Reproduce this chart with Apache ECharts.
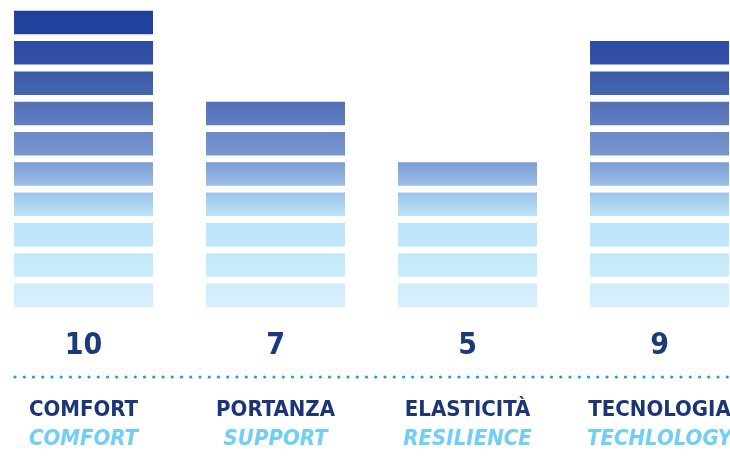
<!DOCTYPE html>
<html>
<head>
<meta charset="utf-8">
<script src="https://cdn.jsdelivr.net/npm/echarts@6/dist/echarts.min.js"></script>
<style>
  html, body { margin: 0; padding: 0; background: #ffffff; }
  #chart { width: 730px; height: 456px; }
</style>
</head>
<body>
<div id="chart"></div>
<script>
// Scores per feature (out of 10), drawn as stacks of unit blocks
const categories = ['COMFORT', 'PORTANZA', 'ELASTICITÀ', 'TECNOLOGIA'];
const subtitles = ['COMFORT', 'SUPPORT', 'RESILIENCE', 'TECHLOLOGY'];
const scores = [10, 7, 5, 9];

// Block colours from level 1 (bottom) to level 10 (top): [top, bottom] of each block
const levelColors = [
  ['#d0edfa', '#d6effb'],
  ['#c5e8f9', '#cbebfa'],
  ['#bce5f9', '#c1e7f9'],
  ['#9cc4e8', '#bae5f9'],
  ['#7b9dd2', '#9cbfe6'],
  ['#6a89c6', '#7a98cd'],
  ['#5470b8', '#617ebf'],
  ['#3a59a8', '#4766b0'],
  ['#2a4ba2', '#3551a6'],
  ['#213f99', '#2444a0']
];

const BLOCK = 0.776;     // filled share of each unit step
const BAR_SHARE = 0.724; // bar width as share of one category step

const chart = echarts.init(document.getElementById('chart'), null, { renderer: 'canvas' });

const FONT = "'Liberation Sans Narrow', 'DejaVu Sans Condensed', 'Liberation Sans', sans-serif";

chart.setOption({
  animation: false,
  grid: { left: 0, right: 0, top: 4, height: 303, containLabel: false, outerBoundsMode: 'none' },
  xAxis: {
    type: 'value',
    min: -0.435,
    max: 3.367,
    splitLine: { show: false },
    axisLine: { show: false },
    axisTick: { show: false },
    axisLabel: {
      margin: 89,
      customValues: categories.map((c, i) => i),
      formatter: (val) => {
        const i = Math.round(val);
        return '{a|' + categories[i] + '}\n{b|' + subtitles[i] + '}';
      },
      rich: {
        a: { fontFamily: FONT, fontSize: 22, fontWeight: 'bold', color: '#1c3576', lineHeight: 29 },
        b: { fontFamily: FONT, fontSize: 22, fontWeight: 'bold', fontStyle: 'italic', color: '#6fcff6', lineHeight: 29 }
      }
    }
  },
  yAxis: {
    type: 'value', min: 0, max: 10,
    show: false,
    splitLine: { show: false }
  },
  graphic: [{
    type: 'line',
    shape: { x1: 15, y1: 377, x2: 732, y2: 377 },
    style: { stroke: '#1e9bdb', lineWidth: 3.2, lineDash: [0, 9.25], lineCap: 'round' },
    silent: true
  }],
  series: [{
    type: 'custom',
    data: scores.map((v, i) => [i, v]),
    encode: { x: 0, y: 1 },
    renderItem: function (params, api) {
      const ci = api.value(0);
      const v = api.value(1);
      const step = api.size([1, 0])[0];
      const w = step * BAR_SHARE;
      const children = [];
      for (let lv = 1; lv <= v; lv++) {
        const p0 = api.coord([ci, lv - 1]);
        const p1 = api.coord([ci, lv - 1 + BLOCK]);
        const c = levelColors[lv - 1];
        children.push({
          type: 'rect',
          shape: { x: p0[0] - w / 2, y: p1[1], width: w, height: p0[1] - p1[1] },
          style: {
            fill: new echarts.graphic.LinearGradient(0, 0, 0, 1, [
              { offset: 0, color: c[0] },
              { offset: 1, color: c[1] }
            ])
          }
        });
      }
      const base = api.coord([ci, 0]);
      children.push({
        type: 'text',
        x: base[0],
        y: base[1] + 39,
        style: {
          text: String(v),
          fontFamily: FONT,
          fontSize: 30,
          fontWeight: 'bold',
          fill: '#1b3a7c',
          align: 'center',
          verticalAlign: 'middle'
        }
      });
      return { type: 'group', children: children };
    }
  }]
});
</script>
</body>
</html>
